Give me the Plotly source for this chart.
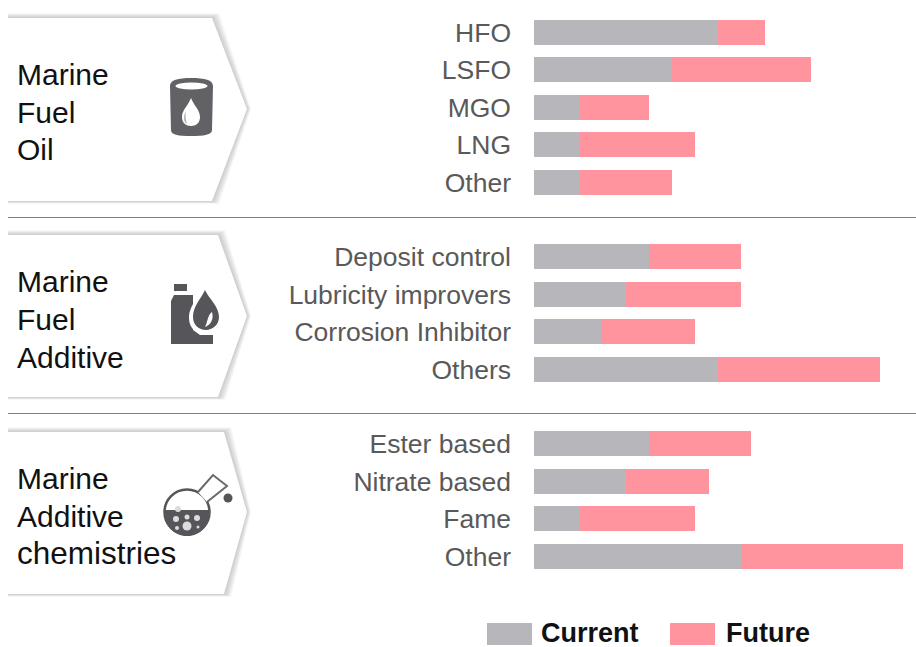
import re
import plotly.graph_objects as go

W, H = 916, 647

fuel_oil_labels = ["HFO", "LSFO", "MGO", "LNG", "Other"]
fuel_oil_current = [8, 6, 2, 2, 2]
fuel_oil_future = [2, 6, 3, 5, 4]

additive_labels = ["Deposit control", "Lubricity improvers", "Corrosion Inhibitor", "Others"]
additive_current = [5, 4, 2.9, 8]
additive_future = [4, 5, 4.1, 7]

chemistry_labels = ["Ester based", "Nitrate based", "Fame", "Other"]
chemistry_current = [5, 4, 2, 9]
chemistry_future = [4.4, 3.6, 5, 7]

GRAY = "#b7b6ba"
PINK = "#ff949f"
DARK = "#55555a"
FONT = "Liberation Sans"


def fx(x):
    return x / W


def fy(y):
    return 1 - y / H


def path(d):
    return re.sub(r"(-?[\d.]+),(-?[\d.]+)",
                  lambda m: f"{fx(float(m[1])):.5f},{fy(float(m[2])):.5f}", d)


def sh(d, fill, line=None, width=0, opacity=1):
    return dict(type="path", xref="paper", yref="paper", path=path(d), fillcolor=fill,
                line=dict(color=line or "rgba(0,0,0,0)", width=width), opacity=opacity)


def circ(cx, cy, rx, ry, fill, line=None, width=0):
    return dict(type="circle", xref="paper", yref="paper", x0=fx(cx - rx), x1=fx(cx + rx),
                y0=fy(cy + ry), y1=fy(cy - ry), fillcolor=fill,
                line=dict(color=line or "rgba(0,0,0,0)", width=width))


def rect(x0, y0, x1, y1, fill):
    return dict(type="rect", xref="paper", yref="paper", x0=fx(x0), x1=fx(x1), y0=fy(y1), y1=fy(y0),
                fillcolor=fill, line=dict(width=0))


shapes = []

# chevron panels with soft shadow
panels = [(7, 18, 212, 247, 109, 201), (7, 235, 218, 247, 316, 397), (7, 432, 224, 247, 512, 594)]
for x0, t, xr, tip, my, b in panels:
    for k in (8, 7, 6, 5, 4, 3, 2, 1):
        shapes.append(sh(f"M{x0+1},{t-k*0.6} L{xr+k*0.9},{t-k*0.6} L{tip+k*0.5},{my} "
                         f"L{xr+k*0.9},{b+k*0.35} L{x0+1},{b+k*0.35} Z", "#707070", opacity=0.05))
    shapes.append(sh(f"M{x0},{t} L{xr},{t} L{tip},{my} L{xr},{b} L{x0},{b} Z", "#ffffff"))

# separators
for y in (217, 413):
    shapes.append(dict(type="line", xref="paper", yref="paper", x0=fx(8), x1=1, y0=fy(y + 0.5), y1=fy(y + 0.5),
                       line=dict(color="#808080", width=1)))

# barrel icon
shapes.append(sh("M170,86 C170,80 178,78 191,78 C205,78 213,80 213,86 L212,130 C212,135 204,136 191,136 "
                 "C178,136 171,135 171,130 Z", "#626266"))
shapes.append(circ(191.5, 86, 16, 3.5, "#ffffff"))
shapes.append(sh("M191,98 C194,106 200,110 200,117 C200,123 196,126 191,126 C186,126 182,123 182,117 "
                 "C182,110 188,106 191,98 Z", "#ffffff"))
shapes.append(sh("M186,111 C183,116 183,122 187,124 C186,120 185,116 186,111 Z", "#b8b8bb"))

# canister icon
shapes.append(rect(174, 284, 187, 291, DARK))
shapes.append(sh("M174,295 L193,295 L193,330 L200,335 L213,335 L213,344 L171,344 L171,301 Z", DARK))
shapes.append(sh("M205,285 C209,296 223,304 223,318 C223,328 215,334 205,334 C196,334 189,328 189,318 "
                 "C189,304 201,296 205,285 Z", "#ffffff"))
shapes.append(sh("M205,290 C209,299 219,306 219,317 C219,325 212,330 206,330 C199,330 193,325 193,317 "
                 "C193,306 201,299 205,290 Z", DARK))
shapes.append(sh("M212,312 C214,319 211,325 205,327 C208,322 207,316 212,312 Z", "#ffffff"))

# flask icon
shapes.append(circ(187, 512, 22.5, 22.5, "#ffffff", line=DARK, width=2.5))
shapes.append(sh("M198,492 L213,475 L227,486 L207,502 Z", "#ffffff"))
shapes.append(sh("M198,492 L213,475 L227,486 L207,502", "rgba(0,0,0,0)", line="#6a6a6e", width=2))
shapes.append(sh("M164,510 L210,510 C211,525 200,536 187,536 C174,536 163,525 164,510 Z", DARK))
for cx, cy, r in [(178, 509, 3), (176, 519, 3), (187, 517, 2.5), (197, 518, 3), (187, 526, 4.5), (177, 528, 2), (198, 527, 1.5)]:
    shapes.append(circ(cx, cy, r, r, "#dcdcde"))
shapes.append(circ(228, 498, 4.5, 4.5, DARK))

# legend swatches
shapes.append(rect(487, 623, 532, 645, GRAY))
shapes.append(rect(670, 623, 715, 645, PINK))

annotations = []


def label(text, x, y, size, bold=False):
    annotations.append(dict(text=f"<b>{text}</b>" if bold else text, xref="paper", yref="paper",
                            x=fx(x), y=fy(y), xanchor="left", yanchor="middle", showarrow=False,
                            align="left", borderpad=0,
                            font=dict(family=FONT, size=size, color="#111111")))


for lines, ys, sizes in [(["Marine", "Fuel", "Oil"], (74, 112, 150), (30, 30, 30)),
                         (["Marine", "Fuel", "Additive"], (281, 319, 357), (30, 30, 30)),
                         (["Marine", "Additive", "chemistries"], (478, 516, 553), (30, 30, 31.5))]:
    for t, y, s in zip(lines, ys, sizes):
        label(t, 16, y, s)
label("Current", 540, 633, 27, True)
label("Future", 725, 633, 27, True)

fig = go.Figure()
groups = [
    ("y", fuel_oil_labels, fuel_oil_current, fuel_oil_future),
    ("y2", additive_labels, additive_current, additive_future),
    ("y3", chemistry_labels, chemistry_current, chemistry_future),
]
for ya, labels, cur, fut in groups:
    fig.add_trace(go.Bar(y=labels, x=cur, orientation="h", name="Current", yaxis=ya, xaxis="x",
                         marker=dict(color=GRAY, line=dict(width=0)), showlegend=False))
    fig.add_trace(go.Bar(y=labels, x=fut, orientation="h", name="Future", yaxis=ya, xaxis="x",
                         marker=dict(color=PINK, line=dict(width=0)), showlegend=False))


def yaxis(top, bottom):
    return dict(domain=[fy(bottom), fy(top)], autorange="reversed", anchor="x", type="category",
                showgrid=False, zeroline=False, showline=False, ticks="", ticklabelstandoff=22,
                tickfont=dict(family=FONT, size=26.5, color="#595959"))


fig.update_layout(
    width=W, height=H, autosize=False,
    margin=dict(l=0, r=0, t=0, b=0),
    paper_bgcolor="#ffffff", plot_bgcolor="#ffffff",
    barmode="stack", bargap=0.33,
    xaxis=dict(domain=[534 / W, 1], range=[0, 382 / 23.05], visible=False, fixedrange=True),
    yaxis=yaxis(13.5, 201),
    yaxis2=yaxis(238, 388),
    yaxis3=yaxis(425, 575),
    shapes=shapes, annotations=annotations,
)

fig.write_html("out.html", config={"displayModeBar": False},
               post_script="document.body.style.margin='0';document.body.style.overflow='hidden';")
